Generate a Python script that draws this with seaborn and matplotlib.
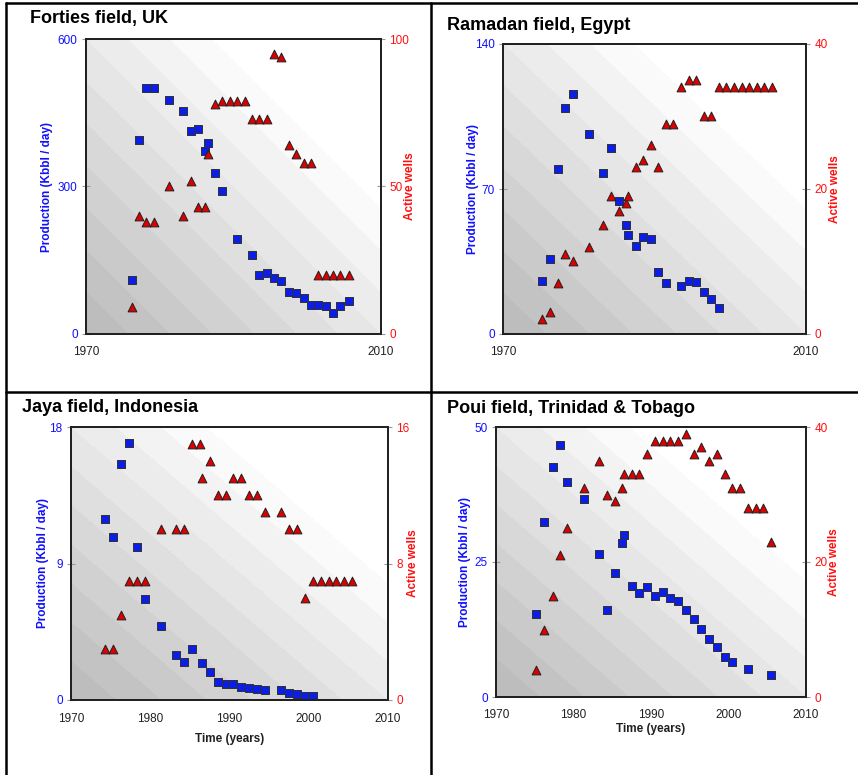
import numpy as np
import matplotlib
matplotlib.use("Agg")
import matplotlib.pyplot as plt
from matplotlib.lines import Line2D
from matplotlib.transforms import Bbox
import seaborn as sns

sns.set_style("white")
plt.rcParams['font.family'] = ['Liberation Sans', 'DejaVu Sans']

BLUE = '#0a1ee8'
RED = '#dd0000'

# Forties field, UK
forties_prod_year = [1976.2, 1977.2, 1978.1, 1979.2, 1981.2, 1983.2, 1984.2, 1985.2, 1986.2, 1986.5,
                     1987.5, 1988.5, 1990.5, 1992.5, 1993.5, 1994.5, 1995.5, 1996.5, 1997.5, 1998.5,
                     1999.5, 2000.5, 2001.5, 2002.5, 2003.5, 2004.5, 2005.6]
forties_prod = [110, 395, 500, 500, 475, 453, 413, 416, 373, 389,
                327, 291, 193, 161, 121, 125, 113, 108, 86, 83,
                74, 58, 59, 56, 43, 56, 68]
forties_well_year = [1976.2, 1977.2, 1978.1, 1979.2, 1981.2, 1983.2, 1984.2, 1985.2, 1986.2, 1986.5,
                     1987.5, 1988.5, 1989.5, 1990.5, 1991.5, 1992.5, 1993.5, 1994.5, 1995.5, 1996.5,
                     1997.5, 1998.5, 1999.5, 2000.5, 2001.5, 2002.5, 2003.5, 2004.5, 2005.6]
forties_wells = [9, 40, 38, 38, 50, 40, 52, 43, 43, 61,
                 78, 79, 79, 79, 79, 73, 73, 73, 95, 94,
                 64, 61, 58, 58, 20, 20, 20, 20, 20]

# Ramadan field, Egypt
ramadan_prod_year = [1975.2, 1976.2, 1977.2, 1978.2, 1979.2, 1981.3, 1983.2, 1984.2, 1985.3, 1986.3,
                     1986.5, 1987.5, 1988.5, 1989.5, 1990.5, 1991.5, 1993.5, 1994.5, 1995.5, 1996.5,
                     1997.5, 1998.5]
ramadan_prod = [25.4, 36, 79.5, 109, 116, 96.6, 77.5, 90, 64.4, 52.5,
                47.7, 42.5, 46.7, 45.9, 30, 24.6, 23, 25.7, 24.9, 20.5,
                17, 12.5]
ramadan_well_year = [1975.2, 1976.2, 1977.2, 1978.2, 1979.2, 1981.3, 1983.2, 1984.2, 1985.3, 1986.3,
                     1986.5, 1987.5, 1988.5, 1989.5, 1990.5, 1991.5, 1992.5, 1993.5, 1994.5, 1995.5,
                     1996.5, 1997.5, 1998.5, 1999.5, 2000.5, 2001.5, 2002.5, 2003.5, 2004.5, 2005.5]
ramadan_wells = [2, 3, 7, 11, 10, 12, 15, 19, 17, 18,
                 19, 23, 24, 26, 23, 29, 29, 34, 35, 35,
                 30, 30, 34, 34, 34, 34, 34, 34, 34, 34]

# Jaya field, Indonesia
jaya_prod_year = [1974.3, 1975.3, 1976.3, 1977.3, 1978.3, 1979.3, 1981.3, 1983.3, 1984.3, 1985.3,
                  1986.5, 1987.5, 1988.5, 1989.5, 1990.5, 1991.5, 1992.5, 1993.5, 1994.5, 1996.5,
                  1997.5, 1998.5, 1999.5, 2000.5]
jaya_prod = [11.94, 10.78, 15.54, 16.97, 10.1, 6.65, 4.85, 2.96, 2.5, 3.38,
             2.44, 1.82, 1.2, 1.05, 1.05, 0.88, 0.79, 0.72, 0.64, 0.64,
             0.48, 0.42, 0.29, 0.24]
jaya_well_year = [1974.3, 1975.3, 1976.3, 1977.3, 1978.3, 1979.3, 1981.3, 1983.3, 1984.3, 1985.3,
                  1986.3, 1986.5, 1987.5, 1988.5, 1989.5, 1990.5, 1991.5, 1992.5, 1993.5, 1994.5,
                  1996.5, 1997.5, 1998.5, 1999.5, 2000.5, 2001.5, 2002.5, 2003.5, 2004.5, 2005.5]
jaya_wells = [3, 3, 5, 7, 7, 7, 10, 10, 10, 15,
              15, 13, 14, 12, 12, 13, 13, 12, 12, 11,
              11, 10, 10, 6, 7, 7, 7, 7, 7, 7]

# Poui field, Trinidad & Tobago
poui_prod_year = [1975.2, 1976.2, 1977.3, 1978.2, 1979.2, 1981.3, 1983.3, 1984.3, 1985.3, 1986.2,
                  1986.5, 1987.5, 1988.5, 1989.5, 1990.5, 1991.5, 1992.5, 1993.5, 1994.5, 1995.5,
                  1996.5, 1997.5, 1998.5, 1999.5, 2000.5, 2002.5, 2005.5]
poui_prod = [15.4, 32.5, 42.6, 46.7, 39.9, 36.7, 26.4, 16.2, 23.0, 28.5,
             30.0, 20.5, 19.2, 20.4, 18.7, 19.4, 18.4, 17.8, 16.1, 14.4,
             12.6, 10.7, 9.3, 7.4, 6.4, 5.1, 4.1]
poui_well_year = [1975.2, 1976.2, 1977.3, 1978.2, 1979.2, 1981.3, 1983.3, 1984.3, 1985.3, 1986.2,
                  1986.5, 1987.5, 1988.5, 1989.5, 1990.5, 1991.5, 1992.5, 1993.5, 1994.5, 1995.5,
                  1996.5, 1997.5, 1998.5, 1999.5, 2000.5, 2001.5, 2002.5, 2003.5, 2004.5, 2005.5]
poui_wells = [4, 10, 15, 21, 25, 31, 35, 30, 29, 31,
              33, 33, 33, 36, 38, 38, 38, 38, 39, 36,
              37, 35, 36, 33, 31, 31, 28, 28, 28, 23]

W, H = 858, 775
fig = plt.figure(figsize=(W / 100, H / 100), dpi=100)


def px_axes(left, top, right, bottom):
    return fig.add_axes([left / W, 1 - bottom / H, (right - left) / W, (bottom - top) / H])


def background(ax):
    # stepped diagonal grey shading, dark bottom-left to white top-right
    xx, yy = np.meshgrid(np.linspace(0, 1, 400), np.linspace(0, 1, 400))
    v = np.floor((xx + yy) / 2 * 14) / 14
    g = np.clip(0.74 + 0.37 * v, 0, 1)
    ax.imshow(g, cmap='gray', vmin=0, vmax=1, extent=(0, 1, 0, 1), transform=ax.transAxes,
              origin='lower', aspect='auto', interpolation='nearest', zorder=0)


panels = [
    dict(title='Forties field, UK', box=(86, 39, 381, 334), title_xy=(30, 23),
         py=forties_prod_year, p=forties_prod, wy=forties_well_year, w=forties_wells,
         pmax=600, wmax=100, full_x=False, xlabel=False,
         lab_l=47, lab_r=410, clip=None),
    dict(title='Ramadan field, Egypt', box=(503, 44, 806, 334), title_xy=(447, 30),
         py=ramadan_prod_year, p=ramadan_prod, wy=ramadan_well_year, w=ramadan_wells,
         pmax=140, wmax=40, full_x=False, xlabel=False,
         lab_l=473, lab_r=835, clip=837),
    dict(title='Jaya field, Indonesia', box=(71, 427, 388, 700), title_xy=(22, 412),
         py=jaya_prod_year, p=jaya_prod, wy=jaya_well_year, w=jaya_wells,
         pmax=18, wmax=16, full_x=True, xlabel=True,
         lab_l=43, lab_r=413, clip=None),
    dict(title='Poui field, Trinidad & Tobago', box=(496, 427, 806, 697), title_xy=(447, 413),
         py=poui_prod_year, p=poui_prod, wy=poui_well_year, w=poui_wells,
         pmax=50, wmax=40, full_x=True, xlabel=True,
         lab_l=465, lab_r=834, clip=837),
]

for pn in panels:
    l, t, r, b = pn['box']
    ax = px_axes(l, t, r, b)
    background(ax)
    sns.scatterplot(x=pn['py'], y=pn['p'], ax=ax, marker='s', color=BLUE, s=34,
                    edgecolor='#303030', linewidth=0.7, zorder=3)
    ax.set_xlim(1970, 2010)
    ax.set_ylim(0, pn['pmax'])
    ax.set_yticks([0, pn['pmax'] / 2, pn['pmax']])
    ax.set_yticklabels([f"{v:g}" for v in [0, pn['pmax'] / 2, pn['pmax']]])
    ax.set_xticks([1970, 1980, 1990, 2000, 2010])
    if pn['full_x']:
        ax.set_xticklabels(['1970', '1980', '1990', '2000', '2010'])
    else:
        ax.set_xticklabels(['1970', '', '', '', '2010'])
    ax.tick_params(axis='both', direction='inout', length=6, width=0.8, color='#999999',
                   labelsize=8.5, pad=3)
    ax.tick_params(axis='y', labelcolor='#1010ff')
    ax.tick_params(axis='x', labelcolor='#202020', pad=6)

    ax2 = ax.twinx()
    sns.scatterplot(x=pn['wy'], y=pn['w'], ax=ax2, marker='^', color=RED, s=40,
                    edgecolor='#202020', linewidth=0.7, zorder=4)
    ax2.set_ylim(0, pn['wmax'])
    ax2.set_yticks([0, pn['wmax'] / 2, pn['wmax']])
    ax2.set_yticklabels([f"{v:g}" for v in [0, pn['wmax'] / 2, pn['wmax']]])
    ax2.tick_params(axis='y', direction='inout', length=6, width=0.8, color='#999999',
                    labelsize=8.5, labelcolor='#ff1010', pad=3)
    for a in (ax, ax2):
        for s in a.spines.values():
            s.set_color('#202020')
            s.set_linewidth(1.3)
        a.set_xlabel('')
        a.set_ylabel('')

    cy = H - (t + b) / 2
    fig.text(pn['lab_l'] / W, cy / H, 'Production (Kbbl / day)', rotation=90, ha='center',
             va='center', color='#1010ff', fontsize=8.5, fontweight='bold')
    tr = fig.text(pn['lab_r'] / W, cy / H, 'Active wells', rotation=90, ha='center',
                  va='center', color='#ff1010', fontsize=8.5, fontweight='bold')
    if pn['clip'] is not None:
        tr.set_clip_on(True)
        tr.set_clip_box(Bbox.from_extents(0, 0, pn['clip'], H))
    if pn['xlabel']:
        ytl = b + 39 if pn['title'].startswith('Jaya') else b + 32
        fig.text(((l + r) / 2) / W, 1 - ytl / H, 'Time (years)', ha='center', va='center',
                 fontsize=8.5, fontweight='bold', color='#202020')

    tx, ty = pn['title_xy']
    fig.text(tx / W, 1 - ty / H, pn['title'], ha='left', va='baseline', fontsize=13,
             fontweight='bold', color='black')

# panel frame lines
for xs, ys in [((6, W), (3, 3)), ((6, 6), (3, H)), ((6, W), (392, 392)), ((431, 431), (3, H))]:
    fig.add_artist(Line2D([x / W for x in xs], [1 - y / H for y in ys],
                          transform=fig.transFigure, color='black', linewidth=1.8))

fig.savefig('out.png', dpi=100)
